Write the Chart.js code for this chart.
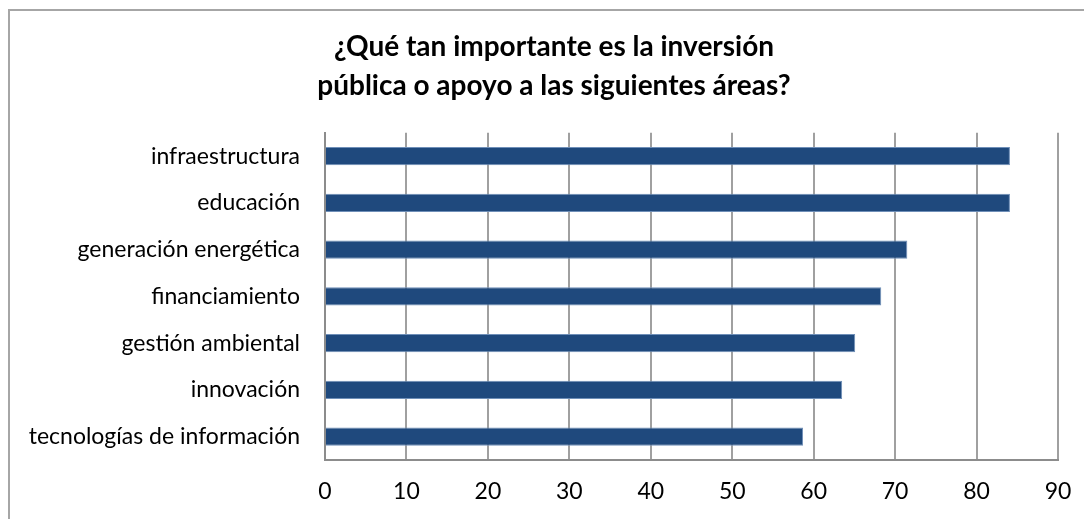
<!DOCTYPE html>
<html>
<head>
<meta charset="utf-8">
<script src="https://cdn.jsdelivr.net/npm/chart.js@4"></script>
<style>
    html, body { margin: 0; padding: 0; background: #fff; overflow: hidden; }
    #marco {
        position: absolute; left: 8px; top: 9px;
        width: 1088px; height: 520px;
        border-left: 2px solid #a6a6a6; border-top: 2px solid #a6a6a6;
        background: #fff;
    }
    #areasChart { display: block; }
</style>
</head>
<body>
<div id="marco"><canvas id="areasChart" width="1088" height="520"></canvas></div>
<script>
// datos
const areas = ['infraestructura', 'educación', 'generación energética', 'financiamiento',
               'gestión ambiental', 'innovación', 'tecnologías de información'];
const importancia = [84.1, 84.1, 71.5, 68.3, 65.1, 63.5, 58.7];
const ejeX = [0, 10, 20, 30, 40, 50, 60, 70, 80, 90];

document.addEventListener('DOMContentLoaded', function() {
    initAreasChart();
});

function initAreasChart() {
    const ctx = document.getElementById('areasChart').getContext('2d');

    // le titre prend toute la largeur du canvas (padding droit ignore)
    const centrarTitulo = {
        id: 'centrarTitulo',
        afterLayout: function(chart) {
            chart.titleBlock.left = 0;
            chart.titleBlock.right = chart.width;
            chart.titleBlock.width = chart.width;
        }
    };

    new Chart(ctx, {
        type: 'bar',
        data: {
            labels: areas,
            datasets: [{
                data: importancia,
                backgroundColor: '#1F497D',
                borderColor: '#6f8fb8',
                borderWidth: 1,
                barPercentage: 0.39,
                categoryPercentage: 1
            }]
        },
        plugins: [centrarTitulo],
        options: {
            indexAxis: 'y',
            responsive: false,
            animation: false,
            layout: {
                padding: { left: 0, right: 40, top: 0, bottom: 0 }
            },
            plugins: {
                legend: { display: false },
                tooltip: { enabled: false },
                title: {
                    display: true,
                    text: ['¿Qué tan importante es la inversión', 'pública o apoyo a las siguientes áreas?'],
                    color: '#000000',
                    font: { family: 'Lato', size: 28, weight: 'bold', lineHeight: 1.39 },
                    padding: { top: 17, bottom: 27 }
                }
            },
            scales: {
                x: {
                    min: ejeX[0],
                    max: ejeX[ejeX.length - 1],
                    afterBuildTicks: function(scale) {
                        scale.ticks = ejeX.map(v => ({ value: v }));
                    },
                    afterFit: function(scale) { scale.height = 71; },
                    ticks: {
                        color: '#000000',
                        font: { family: 'Lato', size: 23 },
                        padding: 18
                    },
                    grid: {
                        color: '#a0a0a0',
                        lineWidth: 2,
                        drawTicks: false
                    },
                    border: { color: '#8c8c8c', width: 2 }
                },
                y: {
                    afterFit: function(scale) { scale.width = 315; },
                    ticks: {
                        color: '#000000',
                        font: { family: 'Lato', size: 23 },
                        padding: 25
                    },
                    grid: { display: false, drawTicks: false },
                    border: { color: '#8c8c8c', width: 2 }
                }
            }
        }
    });
}
</script>
</body>
</html>
